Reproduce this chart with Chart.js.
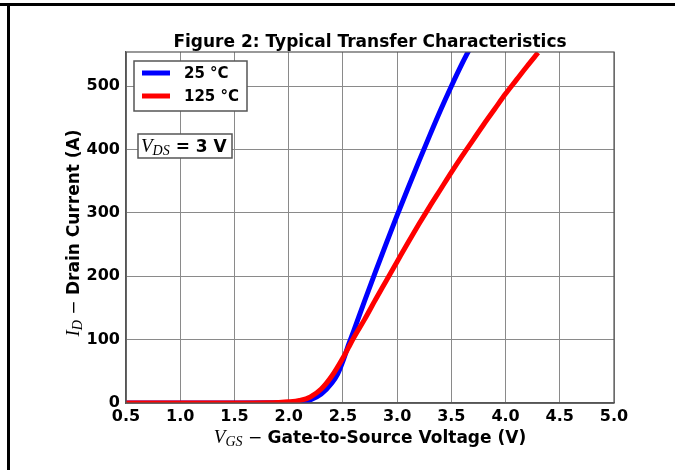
<!DOCTYPE html>
<html>
<head>
<meta charset="utf-8">
<script src="https://cdn.jsdelivr.net/npm/chart.js@4.4.0/dist/chart.umd.min.js"></script>
<style>
  html, body { margin: 0; padding: 0; background: #fff; }
  #wrap { width: 675px; height: 470px; }
</style>
</head>
<body>
<div id="wrap"><canvas id="transferChart" width="675" height="470"></canvas></div>
<script>
// values
const vgs25 = [0.5, 1.0, 1.5, 1.9, 2.0, 2.1, 2.2, 2.3, 2.4, 2.45, 2.5, 2.55, 2.6, 2.7, 2.8, 2.9, 3.0, 3.1, 3.2, 3.3, 3.4, 3.5, 3.6, 3.66];
const id25 = [0, 0, 0, 0.2, 0.5, 1.5, 5, 14, 32, 45, 66, 91, 114, 161, 207, 252, 296, 339, 381, 422, 462, 500, 536, 556];

const vgs125 = [0.5, 1.0, 1.5, 1.8, 1.9, 2.0, 2.1, 2.2, 2.3, 2.4, 2.5, 2.55, 2.6, 2.7, 2.8, 2.9, 3.0, 3.1, 3.2, 3.3, 3.4, 3.5, 3.6, 3.7, 3.8, 3.9, 4.0, 4.1, 4.2, 4.3];
const id125 = [0, 0, 0, 0.3, 0.8, 1.8, 4, 9.5, 22, 43, 71, 87, 103, 132, 163, 193, 223, 253, 282, 310, 337, 364, 390, 415, 440, 464, 488, 510, 532, 553];

const seriesLabels = ['25 °C', '125 °C'];
const seriesColors = ['#0000ff', '#ff0000'];

const SANS = '"DejaVu Sans", sans-serif';
const SERIF = '"Liberation Serif", "DejaVu Serif", serif';

function toPoints(xs, ys) {
    return xs.map((x, i) => ({ x: x, y: ys[i] }));
}

// draws a run of text pieces with different fonts
function drawPieces(ctx, pieces, x, y, align) {
    let total = 0;
    pieces.forEach(p => { ctx.font = p.font; total += ctx.measureText(p.text).width; });
    let cx = align === 'center' ? x - total / 2 : x;
    ctx.textBaseline = 'alphabetic';
    ctx.textAlign = 'left';
    pieces.forEach(p => {
        ctx.font = p.font;
        ctx.fillText(p.text, cx, y + (p.dy || 0));
        cx += ctx.measureText(p.text).width;
    });
    return total;
}

const decorPlugin = {
    id: 'decor',
    beforeDraw(chart) {
        const ctx = chart.ctx;
        ctx.save();
        ctx.fillStyle = '#fff';
        ctx.fillRect(0, 0, chart.width, chart.height);
        // frame lines at top and left
        ctx.fillStyle = '#000';
        ctx.fillRect(0, 3, chart.width, 3);
        ctx.fillRect(7, 3, 3, chart.height);
        ctx.restore();
    },
    afterDraw(chart) {
        const ctx = chart.ctx;
        const area = chart.chartArea;
        ctx.save();

        // axes box
        ctx.strokeStyle = '#555';
        ctx.lineWidth = 1.2;
        ctx.strokeRect(area.left, area.top, area.right - area.left, area.bottom - area.top);

        ctx.fillStyle = '#000';
        // title
        ctx.font = 'bold 17px ' + SANS;
        ctx.textAlign = 'center';
        ctx.textBaseline = 'alphabetic';
        ctx.fillText('Figure 2: Typical Transfer Characteristics', (area.left + area.right) / 2, 47);

        // x axis title
        drawPieces(ctx, [
            { text: 'V', font: 'italic 19px ' + SERIF },
            { text: 'GS', font: 'italic 14px ' + SERIF, dy: 3 },
            { text: ' \u2212 ', font: '17px ' + SANS },
            { text: 'Gate-to-Source Voltage (V)', font: 'bold 17px ' + SANS }
        ], (area.left + area.right) / 2, 443, 'center');

        // y axis title
        ctx.save();
        ctx.translate(79, 233);
        ctx.rotate(-Math.PI / 2);
        drawPieces(ctx, [
            { text: 'I', font: 'italic 19px ' + SERIF },
            { text: 'D', font: 'italic 14px ' + SERIF, dy: 3 },
            { text: ' \u2212 ', font: '17px ' + SANS },
            { text: 'Drain Current (A)', font: 'bold 17px ' + SANS }
        ], 0, 0, 'center');
        ctx.restore();

        // legend box
        ctx.fillStyle = '#fff';
        ctx.strokeStyle = '#555';
        ctx.lineWidth = 1.5;
        ctx.fillRect(134, 61, 113, 50);
        ctx.strokeRect(134, 61, 113, 50);
        const rows = [73, 96];
        seriesLabels.forEach((lab, i) => {
            ctx.strokeStyle = seriesColors[i];
            ctx.lineWidth = 5;
            ctx.beginPath();
            ctx.moveTo(142, rows[i]);
            ctx.lineTo(170, rows[i]);
            ctx.stroke();
            ctx.fillStyle = '#000';
            ctx.font = 'bold 15px ' + SANS;
            ctx.textAlign = 'left';
            ctx.textBaseline = 'middle';
            ctx.fillText(lab, 184, rows[i] + 1);
        });

        // V_DS annotation box
        ctx.fillStyle = '#fff';
        ctx.strokeStyle = '#555';
        ctx.lineWidth = 1.5;
        ctx.fillRect(138, 134, 94, 24);
        ctx.strokeRect(138, 134, 94, 24);
        ctx.fillStyle = '#000';
        drawPieces(ctx, [
            { text: 'V', font: 'italic 19px ' + SERIF },
            { text: 'DS', font: 'italic 14px ' + SERIF, dy: 3 },
            { text: ' = 3 V', font: 'bold 17px ' + SANS }
        ], 141, 152, 'left');

        ctx.restore();
    }
};

const ctx = document.getElementById('transferChart').getContext('2d');
const transferChart = new Chart(ctx, {
    type: 'line',
    data: {
        datasets: [{
            label: seriesLabels[0],
            data: toPoints(vgs25, id25),
            borderColor: seriesColors[0],
            backgroundColor: seriesColors[0],
            borderWidth: 5,
            pointRadius: 0,
            fill: false,
            cubicInterpolationMode: 'monotone',
            order: 1
        }, {
            label: seriesLabels[1],
            data: toPoints(vgs125, id125),
            borderColor: seriesColors[1],
            backgroundColor: seriesColors[1],
            borderWidth: 5,
            pointRadius: 0,
            fill: false,
            cubicInterpolationMode: 'monotone',
            order: 0
        }]
    },
    options: {
        responsive: false,
        animation: false,
        layout: { padding: { left: 0, top: 52, right: 61, bottom: 0 } },
        plugins: {
            legend: { display: false },
            title: { display: false },
            tooltip: { enabled: false }
        },
        scales: {
            x: {
                type: 'linear',
                min: 0.5,
                max: 5.0,
                ticks: {
                    stepSize: 0.5,
                    padding: 4,
                    color: '#000',
                    font: { family: SANS, size: 16, weight: 'bold' },
                    maxRotation: 0,
                    callback: v => v.toFixed(1)
                },
                grid: { color: '#8a8a8a', lineWidth: 1, drawTicks: false },
                border: { color: '#555', width: 1.2 },
                afterFit: s => { s.height = 67; }
            },
            y: {
                min: 0,
                max: 554,
                ticks: {
                    stepSize: 100,
                    includeBounds: false,
                    padding: 6,
                    color: '#000',
                    font: { family: SANS, size: 16, weight: 'bold' }
                },
                grid: { color: '#8a8a8a', lineWidth: 1, drawTicks: false },
                border: { color: '#555', width: 1.2 },
                afterFit: s => { s.width = 126; }
            }
        }
    },
    plugins: [decorPlugin]
});
</script>
</body>
</html>
